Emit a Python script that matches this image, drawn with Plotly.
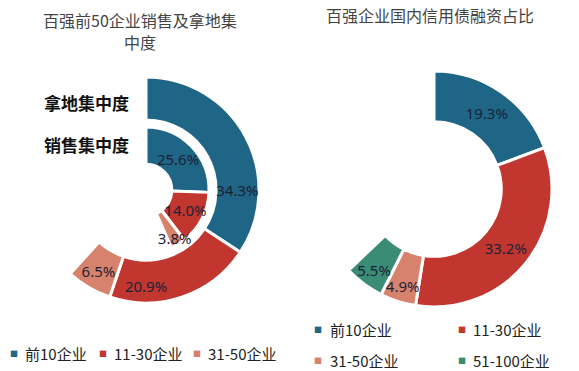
import plotly.graph_objects as go

# ---- data ----
groups_left = ["前10企业", "11-30企业", "31-50企业"]
land_share = [34.3, 20.9, 6.5]     # 拿地集中度 (outer ring)
sales_share = [25.6, 14.0, 3.8]    # 销售集中度 (inner ring)

groups_right = ["前10企业", "11-30企业", "31-50企业", "51-100企业"]
bond_share = [19.3, 33.2, 4.9, 5.5]

title_left = ["百强前50企业销售及拿地集", "中度"]
title_right = "百强企业国内信用债融资占比"
ring_labels = ["拿地集中度", "销售集中度"]

colors = ["#1f6586", "#c1372f", "#d7826c", "#3a8c74"]
TXT = "#1b2236"
FONT = "Noto Sans, Noto Sans CJK SC, sans-serif"
CJK = "Noto Sans CJK SC, sans-serif"

W, H = 579, 371


def px_domain(cx, cy, r):
    return dict(x=[(cx - r) / W, (cx + r) / W],
                y=[(H - cy - r) / H, (H - cy + r) / H])


def ring(vals, names, cols, cx, cy, r, hole):
    rest = round(100 - sum(vals), 1)
    common = dict(
        values=list(vals) + [rest],
        labels=list(names) + ["其他"],
        sort=False,
        direction="clockwise",
        rotation=0,
        hole=hole,
        domain=px_domain(cx, cy, r),
        showlegend=False,
        hoverinfo="skip",
    )
    wedges = go.Pie(
        textinfo="none",
        marker=dict(colors=list(cols[:len(vals)]) + ["rgba(0,0,0,0)"],
                    line=dict(color="white", width=[3] * len(vals) + [0])),
        **common,
    )
    labels = go.Pie(
        text=[f"{v:.1f}%" for v in vals] + [""],
        textinfo="text",
        textposition="inside",
        insidetextorientation="horizontal",
        textfont=dict(family=FONT, size=15, color=TXT),
        marker=dict(colors=["rgba(0,0,0,0)"] * (len(vals) + 1),
                    line=dict(width=0)),
        **common,
    )
    return [wedges, labels]


rings = (ring(land_share, groups_left, colors, 146, 190, 113, 0.62)
         + ring(sales_share, groups_left, colors, 146, 190, 63, 0.41)
         + ring(bond_share, groups_right, colors, 434, 189, 118, 0.57))
# wedges first, then every label on top
fig = go.Figure(data=rings[0::2] + rings[1::2])

ann = []
# titles
for line, yy in zip(title_left, [20, 42]):
    ann.append(dict(text=line, x=140 / W, y=1 - yy / H, xref="paper", yref="paper",
                    showarrow=False, font=dict(family=CJK, size=16, color="#444444"),
                    xanchor="center", yanchor="middle", borderpad=0))
ann.append(dict(text=title_right, x=430 / W, y=1 - 15 / H, xref="paper", yref="paper",
                showarrow=False, font=dict(family=CJK, size=16, color="#444444"),
                xanchor="center", yanchor="middle"))
# ring labels
for lab, yy in zip(ring_labels, [102, 144]):
    ann.append(dict(text=f"<b>{lab}</b>", x=42 / W, y=1 - yy / H, xref="paper", yref="paper",
                    showarrow=False, font=dict(family=CJK, size=17, color="#111111"),
                    xanchor="left", yanchor="middle"))


def legend_item(name, col, mx, tx, yy):
    ann.append(dict(text="■", x=mx / W, y=1 - yy / H, xref="paper", yref="paper",
                    showarrow=False, font=dict(family=FONT, size=8, color=col),
                    xanchor="center", yanchor="middle"))
    ann.append(dict(text=name, x=tx / W, y=1 - yy / H, xref="paper", yref="paper",
                    showarrow=False, font=dict(family=CJK, size=15, color="#222222"),
                    xanchor="left", yanchor="middle"))


for name, col, mx, tx in zip(groups_left, colors, [14, 103, 197], [23, 112, 206]):
    legend_item(name, col, mx, tx, 353)

pos_right = [(318, 328, 329), (462, 471, 329), (318, 328, 360), (462, 471, 360)]
for name, col, (mx, tx, yy) in zip(groups_right, colors, pos_right):
    legend_item(name, col, mx, tx, yy)

fig.update_layout(
    width=W, height=H,
    margin=dict(l=0, r=0, t=0, b=0),
    paper_bgcolor="white",
    plot_bgcolor="white",
    annotations=ann,
    uniformtext=dict(minsize=15, mode="show"),
)

fig.write_html("out.html",
               config={"displayModeBar": False},
               post_script="document.body.style.margin='0';document.body.style.overflow='hidden';")
